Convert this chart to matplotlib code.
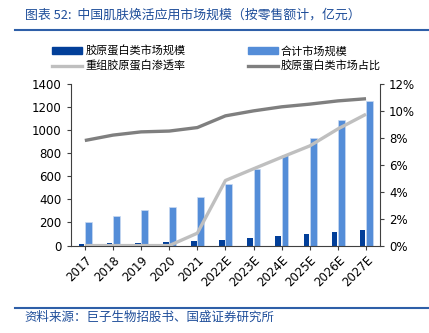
import numpy as np
import matplotlib.pyplot as plt
from matplotlib.lines import Line2D
from matplotlib.patches import Patch

plt.rcParams['font.family'] = ['Noto Sans CJK SC', 'DejaVu Sans']

# Data
years = ['2017', '2018', '2019', '2020', '2021', '2022E', '2023E',
         '2024E', '2025E', '2026E', '2027E']
collagen = [17, 20, 25, 28, 37, 49, 66, 81, 98, 118, 139]
total = [205, 257, 309, 332, 424, 534, 661, 785, 935, 1091, 1256]
recomb_pen = [0.0, 0.0, 0.0, 0.0, 0.92, 4.83, 5.7, 6.56, 7.4, 8.66, 9.75]
collagen_share = [7.8, 8.2, 8.44, 8.5, 8.76, 9.63, 10.0, 10.3, 10.5, 10.74, 10.9]

dark_blue = '#023F99'
light_blue = '#548DD8'
light_gray = '#BFBFBF'
dark_gray = '#7F7F7F'
title_blue = '#1F4E9A'
tick_font = ['Tahoma', 'DejaVu Sans']

fig = plt.figure(figsize=(4.29, 3.33), dpi=100)
ax = fig.add_axes([0.165, 0.2625, 0.721, 0.4855])
x = np.arange(len(years))

ax.bar(x - 0.12, collagen, width=0.2, color=dark_blue, zorder=2)
ax.bar(x + 0.12, total, width=0.24, color=light_blue,
       edgecolor='#C9DAF2', linewidth=0.5, zorder=2)

ax.set_xlim(-0.5, len(years) - 0.5)
ax.set_ylim(0, 1400)
ax.set_yticks(range(0, 1401, 200))
ax.set_xticks(x)
ax.set_xticklabels(years, rotation=45, ha='right', rotation_mode='anchor')
ax.tick_params(axis='both', labelsize=8.5, length=3, width=0.8, color='#404040')
ax.tick_params(axis='x', pad=3)
for lab in ax.get_xticklabels() + ax.get_yticklabels():
    lab.set_family(tick_font)
ax.spines['top'].set_visible(False)
ax.spines['right'].set_visible(False)
for s in ['left', 'bottom']:
    ax.spines[s].set_color('#404040')
    ax.spines[s].set_linewidth(0.8)

ax2 = ax.twinx()
ax2.plot(x, recomb_pen, color=light_gray, lw=2.4, solid_capstyle='butt', zorder=3)
ax2.plot(x, collagen_share, color=dark_gray, lw=2.4, solid_capstyle='butt', zorder=3)
ax2.set_ylim(0, 12)
ax2.set_yticks(range(0, 13, 2))
ax2.set_yticklabels([f'{v}%' for v in range(0, 13, 2)])
ax2.tick_params(axis='y', labelsize=8.5, length=3, width=0.8, color='#404040')
for lab in ax2.get_yticklabels():
    lab.set_family(tick_font)
ax2.spines['top'].set_visible(False)
ax2.spines['left'].set_visible(False)
ax2.spines['bottom'].set_visible(False)
ax2.spines['right'].set_color('#404040')
ax2.spines['right'].set_linewidth(0.8)

# legend filled column by column
handles = [Patch(color=dark_blue), Line2D([], [], color=light_gray, lw=2.4),
           Patch(color=light_blue), Line2D([], [], color=dark_gray, lw=2.4)]
labels = ['胶原蛋白类市场规模', '重组胶原蛋白渗透率', '合计市场规模', '胶原蛋白类市场占比']
fig.legend(handles, labels, ncol=2, loc='center left',
           bbox_to_anchor=(0.098, 0.825), frameon=False, fontsize=8,
           handlelength=2.7, handleheight=0.5, handletextpad=0.3,
           columnspacing=5.6, labelspacing=0.35)

# title / source
fig.text(0.058, 0.955, '图表 52:  中国肌肤焕活应用市场规模（按零售额计，亿元）',
         color=title_blue, fontsize=9.3, style='italic', va='center')
fig.add_artist(Line2D([0.035, 1.0], [0.911, 0.911], color='#2E5FA8', lw=1.5))
fig.add_artist(Line2D([0.035, 1.0], [0.075, 0.075], color='#2E5FA8', lw=1.5))
fig.text(0.058, 0.046, '资料来源：巨子生物招股书、国盛证券研究所',
         color=title_blue, fontsize=9, style='italic', va='center')

fig.savefig('out.png', dpi=100)
